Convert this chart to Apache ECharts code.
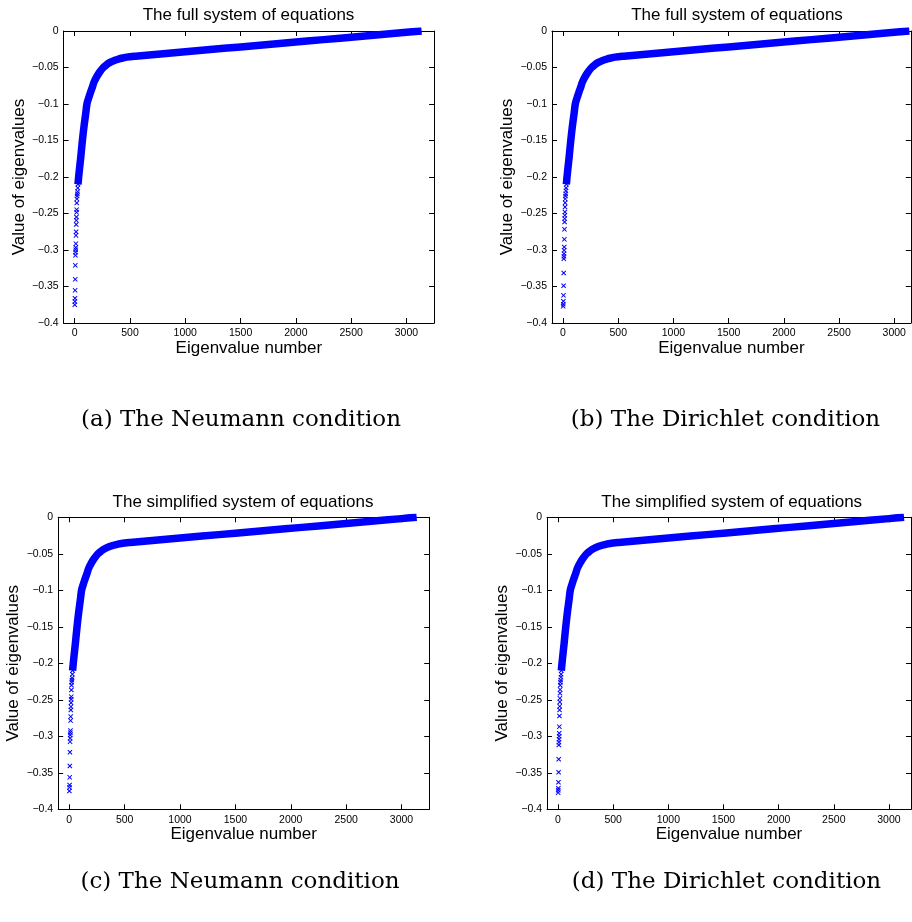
<!DOCTYPE html>
<html><head><meta charset="utf-8">
<script src="https://cdn.jsdelivr.net/npm/echarts@6/dist/echarts.min.js"></script>
<style>html,body{margin:0;padding:0;background:#fff}#c{width:912px;height:922px}</style>
</head><body><div id="c"></div>
<script>
// ---- text ----
const panelTitles = ["The full system of equations", "The full system of equations",
  "The simplified system of equations", "The simplified system of equations"];
const captions = ["(a) The Neumann condition", "(b) The Dirichlet condition",
  "(c) The Neumann condition", "(d) The Dirichlet condition"];
const xName = "Eigenvalue number";
const yName = "Value of eigenvalues";
const xTicks = [0, 500, 1000, 1500, 2000, 2500, 3000];
const yTicks = [0, -0.05, -0.1, -0.15, -0.2, -0.25, -0.3, -0.35, -0.4];

// ---- data: the lowest (isolated) eigenvalues ----
const lowIdx = [1,2,3,4,5,6,7,8,9,10,11,12,13,14,15,16,17,18,19,20,22,24,26,28,30,33,36];
const lowNeumannFull = [-0.3750,-0.3705,-0.3660,-0.3553,-0.3402,-0.3210,-0.3073,-0.3030,-0.2995,-0.2965,-0.2913,-0.2800,-0.2750,-0.2650,-0.2594,-0.2548,-0.2484,-0.2447,-0.2356,-0.2300,-0.2260,-0.2230,-0.2200,-0.2150,-0.2100,-0.2050,-0.2000];
const lowDirichletFull = [-0.3772,-0.3744,-0.3703,-0.3621,-0.3489,-0.3315,-0.3119,-0.3087,-0.3050,-0.3005,-0.2959,-0.2854,-0.2717,-0.2616,-0.2570,-0.2525,-0.2479,-0.2410,-0.2352,-0.2300,-0.2260,-0.2230,-0.2190,-0.2150,-0.2100,-0.2050,-0.2000];
const lowNeumannSimp = [-0.3749,-0.3700,-0.3667,-0.3562,-0.3406,-0.3219,-0.3073,-0.3027,-0.2982,-0.2950,-0.2922,-0.2785,-0.2730,-0.2639,-0.2594,-0.2540,-0.2493,-0.2457,-0.2365,-0.2300,-0.2260,-0.2230,-0.2200,-0.2150,-0.2100,-0.2050,-0.2000];
const lowDirichletSimp = [-0.3772,-0.3740,-0.3712,-0.3630,-0.3493,-0.3315,-0.3119,-0.3080,-0.3040,-0.3000,-0.2959,-0.2868,-0.2721,-0.2640,-0.2590,-0.2530,-0.2480,-0.2410,-0.2360,-0.2300,-0.2260,-0.2230,-0.2190,-0.2150,-0.2100,-0.2050,-0.2000];

// ---- data: the dense band of eigenvalues ----
const bandIdx = [30,36,45,55,70,85,100,111,125,140,160,175,200,225,259,290,320,364,400,440,470,550,700,900,1200,1500,1800,2100,2400,2700,3000,3137];
const bandNeumann = [-0.210,-0.200,-0.187,-0.173,-0.150,-0.130,-0.113,-0.100,-0.0925,-0.0855,-0.0770,-0.0700,-0.0625,-0.0565,-0.0500,-0.0460,-0.0430,-0.0400,-0.0383,-0.0368,-0.0358,-0.0345,-0.0325,-0.0297,-0.0257,-0.0218,-0.0178,-0.0138,-0.0098,-0.0058,-0.0018,0.0];
const bandDirichlet = [-0.210,-0.200,-0.187,-0.173,-0.150,-0.130,-0.113,-0.100,-0.0925,-0.0855,-0.0770,-0.0700,-0.0625,-0.0565,-0.0500,-0.0460,-0.0430,-0.0400,-0.0383,-0.0368,-0.0358,-0.0345,-0.0325,-0.0297,-0.0257,-0.0218,-0.0178,-0.0138,-0.0098,-0.0058,-0.0018,0.0];

// ---- layout ----
const panels = [
  {left:63.6, top:31,    xMax:3250, width:370.5, low:lowNeumannFull,   band:bandNeumann,   tx:248.5, ty:15,    cx:241,   cy:420},
  {left:552,  top:31,    xMax:3150, width:358.8, low:lowDirichletFull, band:bandDirichlet, tx:737,   ty:15,    cx:725.5, cy:420},
  {left:58.2, top:517.3, xMax:3250, width:371,   low:lowNeumannSimp,   band:bandNeumann,   tx:243,   ty:502.5, cx:240,   cy:882},
  {left:547,  top:517.3, xMax:3200, width:364,   low:lowDirichletSimp, band:bandDirichlet, tx:731.7, ty:502.5, cx:726.5, cy:882}
];
const FONT = "'Liberation Sans', Arial, Helvetica, sans-serif";
const BLUE = '#0000ff';
const crossPath = 'path://M0,1.4L1.4,0L5,3.6L8.6,0L10,1.4L6.4,5L10,8.6L8.6,10L5,6.4L1.4,10L0,8.6L3.6,5Z';

const grid = [], xAxis = [], yAxis = [], series = [], graphic = [];
const axisLine = {show:true, onZero:false, lineStyle:{color:'#000', width:1}};
const fmtY = v => (Math.abs(v) < 1e-9 ? '0' : (v < 0 ? '\u2212' : '') + (+Math.abs(v).toFixed(2)).toString());
const fmtX = v => String(Math.round(v));

panels.forEach((p, i) => {
  grid.push({left:p.left, top:p.top, width:p.width, height:292, containLabel:false});
  const xBase = {type:'value', gridIndex:i, min:-100, max:p.xMax, splitLine:{show:false}, axisLine:axisLine,
    axisTick:{show:true, inside:true, length:5, customValues:xTicks, lineStyle:{color:'#000'}}};
  xAxis.push(Object.assign({}, xBase, {position:'bottom',
    axisLabel:{show:true, customValues:xTicks, formatter:fmtX, margin:5, fontSize:10.5, color:'#000', fontFamily:FONT},
    name:xName, nameLocation:'middle', nameGap:16, nameTextStyle:{fontSize:17, color:'#000', fontFamily:FONT}}));
  xAxis.push(Object.assign({}, xBase, {position:'top', axisLabel:{show:false}}));
  const yBase = {type:'value', gridIndex:i, min:-0.4, max:0, interval:0.05, splitLine:{show:false}, axisLine:axisLine,
    axisTick:{show:true, inside:true, length:5, lineStyle:{color:'#000'}}};
  yAxis.push(Object.assign({}, yBase, {position:'left',
    axisLabel:{show:true, margin:5, fontSize:10.5, color:'#000', fontFamily:FONT, formatter:fmtY},
    name:yName, nameLocation:'middle', nameGap:36, nameTextStyle:{fontSize:17, color:'#000', fontFamily:FONT}}));
  yAxis.push(Object.assign({}, yBase, {position:'right', axisLabel:{show:false}}));

  series.push({type:'line', xAxisIndex:2*i, yAxisIndex:2*i, showSymbol:false, symbol:'none', silent:true,
    smooth:0.35, data: bandIdx.map((x, k) => [x, p.band[k]]),
    lineStyle:{color:BLUE, width:7.5, join:'round', cap:'butt'}, animation:false});
  series.push({type:'scatter', xAxisIndex:2*i, yAxisIndex:2*i, symbol:crossPath, symbolSize:5, silent:true,
    data: lowIdx.map((x, k) => [x, p.low[k]]),
    itemStyle:{color:BLUE, opacity:1}, animation:false});

  graphic.push({type:'text', x:p.tx, y:p.ty, silent:true,
    style:{text:panelTitles[i], fill:'#000', font:'17px ' + FONT, align:'center', verticalAlign:'middle'}});
  graphic.push({type:'text', x:p.cx, y:p.cy, silent:true,
    style:{text:captions[i], fill:'#000', font:"23px 'DejaVu Serif', serif", align:'center', verticalAlign:'middle'}});
});

const chart = echarts.init(document.getElementById('c'), null, {renderer:'canvas'});
chart.setOption({backgroundColor:'#fff', animation:false, grid, xAxis, yAxis, series, graphic});
</script>
</body></html>
